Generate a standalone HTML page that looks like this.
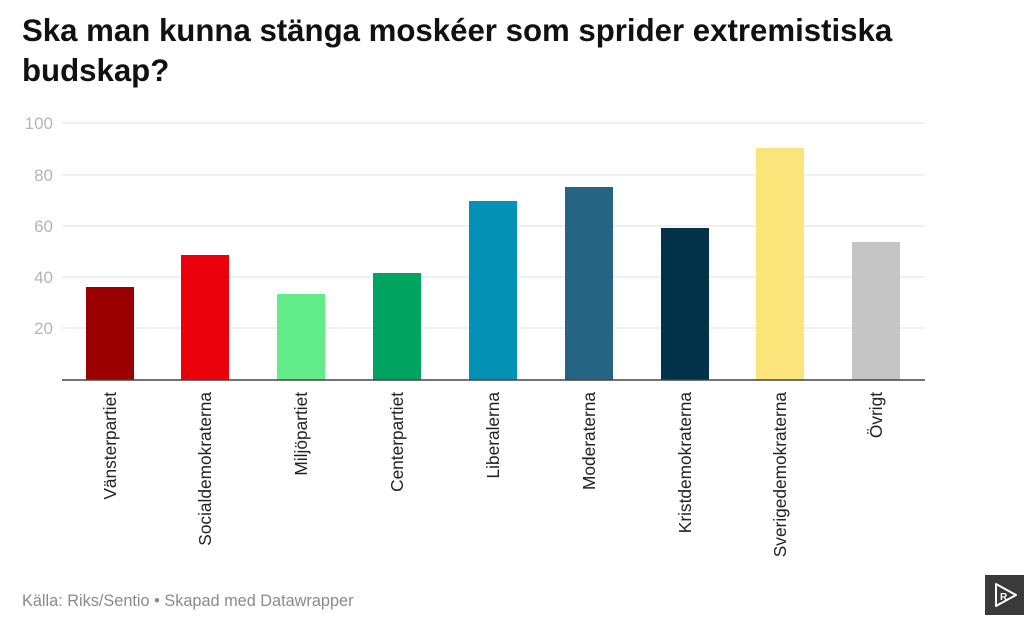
<!DOCTYPE html>
<html><head><meta charset="utf-8"><style>
body{margin:0;background:#fff;width:1024px;height:618px;overflow:hidden;font-family:"Liberation Sans",sans-serif}
</style></head><body>
<svg width="1024" height="618" xmlns="http://www.w3.org/2000/svg" font-family="Liberation Sans, sans-serif">
<text x="22" y="41" font-size="31.2" font-weight="bold" fill="#111">Ska man kunna stänga moskéer som sprider extremistiska</text>
<text x="22" y="81" font-size="31.2" font-weight="bold" fill="#111">budskap?</text>
<g stroke="#e6e6e6" stroke-width="1.2">
<line x1="62" x2="925" y1="123" y2="123"/><line x1="62" x2="925" y1="175" y2="175"/>
<line x1="62" x2="925" y1="226" y2="226"/><line x1="62" x2="925" y1="277" y2="277"/>
<line x1="62" x2="925" y1="328" y2="328"/>
</g>
<g font-size="17" fill="#b5b5b5" text-anchor="end">
<text x="53" y="129">100</text><text x="53" y="181">80</text><text x="53" y="232">60</text>
<text x="53" y="283">40</text><text x="53" y="334">20</text>
</g>
<rect x="86" y="287" width="48" height="93" fill="#9b0000"/>
<rect x="181" y="255" width="48" height="125" fill="#ea000a"/>
<rect x="277" y="294" width="48" height="86" fill="#62ec8a"/>
<rect x="373" y="273" width="48" height="107" fill="#00a460"/>
<rect x="469" y="201" width="48" height="179" fill="#0392b6"/>
<rect x="565" y="187" width="48" height="193" fill="#256482"/>
<rect x="661" y="228" width="48" height="152" fill="#02324a"/>
<rect x="756" y="148" width="48" height="232" fill="#fbe57a"/>
<rect x="852" y="242" width="48" height="138" fill="#c5c5c5"/>
<line x1="62" x2="925" y1="380" y2="380" stroke="#444" stroke-width="1.5"/>
<g font-size="17.3" fill="#222" text-anchor="end">
<text transform="translate(116,392) rotate(-90)">Vänsterpartiet</text>
<text transform="translate(211,392) rotate(-90)">Socialdemokraterna</text>
<text transform="translate(307,392) rotate(-90)">Miljöpartiet</text>
<text transform="translate(403,392) rotate(-90)">Centerpartiet</text>
<text transform="translate(499,392) rotate(-90)">Liberalerna</text>
<text transform="translate(595,392) rotate(-90)">Moderaterna</text>
<text transform="translate(691,392) rotate(-90)">Kristdemokraterna</text>
<text transform="translate(786,392) rotate(-90)">Sverigedemokraterna</text>
<text transform="translate(882,392) rotate(-90)">Övrigt</text>
</g>
<text x="22" y="606" font-size="16.3" fill="#8a8a8a">Källa: Riks/Sentio • Skapad med Datawrapper</text>
<rect x="985" y="575" width="39" height="40" fill="#3a3a3a"/>
<path d="M996 584 L1016 595 L996 606 Z" fill="none" stroke="#fff" stroke-width="2" stroke-linejoin="round"/>
<text x="1000" y="600" font-size="10" font-weight="bold" fill="#fff">R</text>
</svg>
</body></html>
